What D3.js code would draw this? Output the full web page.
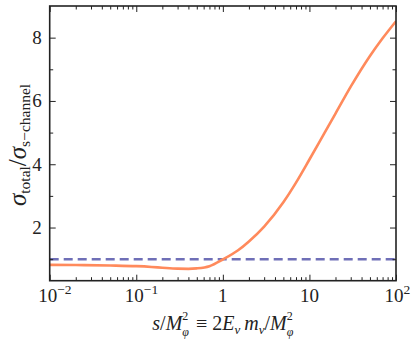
<!DOCTYPE html>
<html><head><meta charset="utf-8">
<script src="https://cdn.jsdelivr.net/npm/d3@7"></script>
<style>
html,body{margin:0;padding:0;background:#fff;}
text{font-family:"Liberation Serif","DejaVu Serif",serif;fill:#222;}
</style></head>
<body><svg id="c" width="415" height="343"></svg>
<script>
// data
const sValues = [0.01,0.02,0.05,0.1,0.15,0.2,0.3,0.4,0.5,0.7,1,1.5,2,3,5,7,10,15,20,30,50,70,100];
const ratioValues = [0.82,0.815,0.80,0.78,0.755,0.73,0.70,0.695,0.71,0.78,0.99,1.28,1.56,2.03,2.80,3.42,4.15,5.0,5.6,6.45,7.42,7.98,8.52];
const refLevel = [1,1];
const xDomain = [0.01,100];
const yDomain = [0.32,9.0];
const xMajorTicks = [0.01,0.1,1,10,100];
const xTickLabels = [["10","−2"],["10","−1"],["1",null],["10",null],["10","2"]];
const yMajorTicks = [2,4,6,8];
const yMinorTicks = [1,3,5,7];

const L=49.7,R=396,T=6,B=280.7;
const svg=d3.select("#c");
const x=d3.scaleLog().domain(xDomain).range([L,R]);
const y=d3.scaleLinear().domain(yDomain).range([B,T]);

const xMinor=[];
for(let k=-2;k<2;k++){for(let m=2;m<=9;m++){xMinor.push(m*Math.pow(10,k));}}

// curves
svg.append("clipPath").attr("id","cp").append("rect").attr("x",L).attr("y",T).attr("width",R-L).attr("height",B-T);
const g=svg.append("g").attr("clip-path","url(#cp)");
g.append("path").datum(xDomain.map((d,i)=>[d,refLevel[i]]))
 .attr("d",d3.line().x(d=>x(d[0])).y(d=>y(d[1])))
 .attr("fill","none").attr("stroke","#6f6fb7").attr("stroke-width",2.4).attr("stroke-dasharray","9,5");
g.append("path").datum(sValues.map((d,i)=>[d,ratioValues[i]]))
 .attr("d",d3.line().x(d=>x(d[0])).y(d=>y(d[1])).curve(d3.curveMonotoneX))
 .attr("fill","none").attr("stroke","#ff8a5c").attr("stroke-width",2.6);

// axes (inward ticks)
function ax(axisFn,scale,vals,size,tr){
  const a=axisFn(scale).tickValues(vals).tickSize(size).tickFormat(()=> "");
  const gg=svg.append("g").attr("transform",tr).call(a);
  gg.select(".domain").remove();
  gg.selectAll("line").attr("stroke","#222").attr("stroke-width",1);
  return gg;
}
ax(d3.axisBottom,x,xMajorTicks,-6,`translate(0,${B})`);
ax(d3.axisBottom,x,xMinor,-3.5,`translate(0,${B})`);
ax(d3.axisTop,x,xMajorTicks,-6,`translate(0,${T})`);
ax(d3.axisTop,x,xMinor,-3.5,`translate(0,${T})`);
ax(d3.axisLeft,y,yMajorTicks,-6,`translate(${L},0)`);
ax(d3.axisLeft,y,yMinorTicks,-3.5,`translate(${L},0)`);
ax(d3.axisRight,y,yMajorTicks,-6,`translate(${R},0)`);
ax(d3.axisRight,y,yMinorTicks,-3.5,`translate(${R},0)`);

svg.append("rect").attr("x",L).attr("y",T).attr("width",R-L).attr("height",B-T)
 .attr("fill","none").attr("stroke","#222").attr("stroke-width",1.6);

// tick labels
yMajorTicks.forEach(v=>{
  svg.append("text").attr("x",L-8).attr("y",y(v)+6.3).attr("text-anchor","end")
   .attr("font-size",19).text(v);
});
xMajorTicks.forEach((v,i)=>{
  const [base,exp]=xTickLabels[i];
  const t=svg.append("text").attr("y",302).attr("font-size",19);
  t.append("tspan").text(base);
  if(exp){t.append("tspan").attr("font-size",13.5).attr("dy",-8).text(exp);}
  const w=t.node().getComputedTextLength();
  t.attr("x",x(v)-(exp? (base.length*9.5)/2 + 2 : w/2));
});

// x label
const xl=svg.append("text").attr("y",330).attr("font-size",20).attr("text-anchor","middle").attr("x",(L+R)/2);
xl.append("tspan").attr("font-style","italic").text("s");
xl.append("tspan").text("/");
xl.append("tspan").attr("font-style","italic").text("M");
xl.append("tspan").attr("font-size",12).attr("dy",-10).text("2");
xl.append("tspan").attr("font-size",12).attr("font-style","italic").attr("dx",-6).attr("dy",16).text("φ");
xl.append("tspan").attr("dy",-6).attr("dx",2).text(" ≡ 2");
xl.append("tspan").attr("font-style","italic").text("E");
xl.append("tspan").attr("font-size",13).attr("font-style","italic").attr("dy",4).text("ν");
xl.append("tspan").attr("font-style","italic").attr("dy",-4).attr("dx",4).text("m");
xl.append("tspan").attr("font-size",13).attr("font-style","italic").attr("dy",4).text("ν");
xl.append("tspan").attr("dy",-4).text("/");
xl.append("tspan").attr("font-style","italic").text("M");
xl.append("tspan").attr("font-size",12).attr("dy",-10).text("2");
xl.append("tspan").attr("font-size",12).attr("font-style","italic").attr("dx",-6).attr("dy",16).text("φ");

// y label
const yl=svg.append("text").attr("transform","translate(26,145) rotate(-90)").attr("text-anchor","middle").attr("font-size",25);
yl.append("tspan").attr("font-style","italic").text("σ");
yl.append("tspan").attr("font-size",15.5).attr("dy",4).text("total");
yl.append("tspan").attr("dy",-4).text("/");
yl.append("tspan").attr("font-style","italic").text("σ");
yl.append("tspan").attr("font-size",15.5).attr("dy",4).text("s−channel");
</script></body></html>
